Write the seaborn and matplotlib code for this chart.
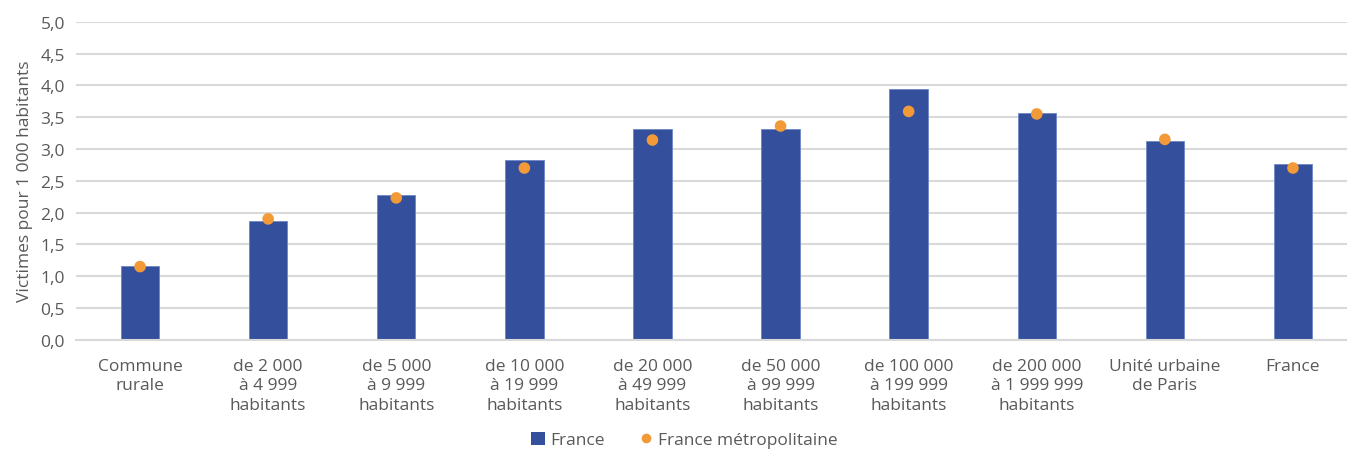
import matplotlib
matplotlib.use("Agg")
import matplotlib.pyplot as plt
from matplotlib.lines import Line2D
from matplotlib.patches import Patch
from matplotlib.ticker import FuncFormatter, MultipleLocator
import seaborn as sns
import pandas as pd

categories = [
    "Commune\nrurale",
    "de 2 000\nà 4 999\nhabitants",
    "de 5 000\nà 9 999\nhabitants",
    "de 10 000\nà 19 999\nhabitants",
    "de 20 000\nà 49 999\nhabitants",
    "de 50 000\nà 99 999\nhabitants",
    "de 100 000\nà 199 999\nhabitants",
    "de 200 000\nà 1 999 999\nhabitants",
    "Unité urbaine\nde Paris",
    "France",
]
france = [1.16, 1.87, 2.28, 2.82, 3.32, 3.32, 3.94, 3.56, 3.12, 2.76]
france_metro = [1.15, 1.90, 2.23, 2.70, 3.14, 3.36, 3.59, 3.55, 3.15, 2.70]

BAR_COLOR = "#34509C"
DOT_COLOR = "#F39A38"
TEXT_COLOR = "#595959"
GRID_COLOR = "#D9D9D9"

sns.set_theme(style="white")
plt.rcParams["font.family"] = ["Open Sans", "DejaVu Sans"]

df = pd.DataFrame({"cat": categories, "France": france, "Metro": france_metro})

fig = plt.figure(figsize=(13.47, 4.52), dpi=100)
ax = fig.add_axes([76 / 1347, 0.2462, 1281 / 1347, 0.7035])

sns.barplot(data=df, x="cat", y="France", color=BAR_COLOR, width=0.30,
            saturation=1, ax=ax, zorder=2, edgecolor="#6F86C4", linewidth=0.6)
sns.scatterplot(x=range(len(categories)), y=df["Metro"], color=DOT_COLOR,
                s=70, edgecolor="none", ax=ax, zorder=3, legend=False)

ax.set_xlim(-0.5, len(categories) - 0.5)
ax.set_ylim(0, 5.0)
ax.yaxis.set_major_locator(MultipleLocator(0.5))
ax.yaxis.set_major_formatter(FuncFormatter(lambda v, _: f"{v:.1f}".replace(".", ",")))
ax.grid(axis="y", color=GRID_COLOR, linewidth=1.5, zorder=0)
ax.set_axisbelow(True)
for side in ["top", "right", "left"]:
    ax.spines[side].set_visible(False)
ax.spines["bottom"].set_color(GRID_COLOR)
ax.spines["bottom"].set_linewidth(1.5)

ax.set_xlabel("")
ax.set_ylabel("Victimes pour 1 000 habitants", fontsize=12.5, color=TEXT_COLOR, labelpad=5)
ax.tick_params(axis="y", labelsize=12.5, colors=TEXT_COLOR, length=0, pad=8)
ax.tick_params(axis="x", labelsize=12.5, colors=TEXT_COLOR, length=0, pad=13)
for lbl in ax.get_xticklabels():
    lbl.set_linespacing(1.3)
    lbl.set_verticalalignment("top")

handles = [
    Patch(facecolor=BAR_COLOR, edgecolor="none", label="France"),
    Line2D([0], [0], marker="o", linestyle="none", markersize=7,
           markerfacecolor=DOT_COLOR, markeredgecolor="none",
           label="France métropolitaine"),
]
fig.legend(handles=handles, loc="center", bbox_to_anchor=(0.508, 0.024), ncol=2,
           frameon=False, fontsize=12.5, labelcolor=TEXT_COLOR, handlelength=0.8,
           handleheight=0.8, handletextpad=0.3, columnspacing=2.0,
           borderpad=0.1)

fig.savefig("out.png", dpi=100)
